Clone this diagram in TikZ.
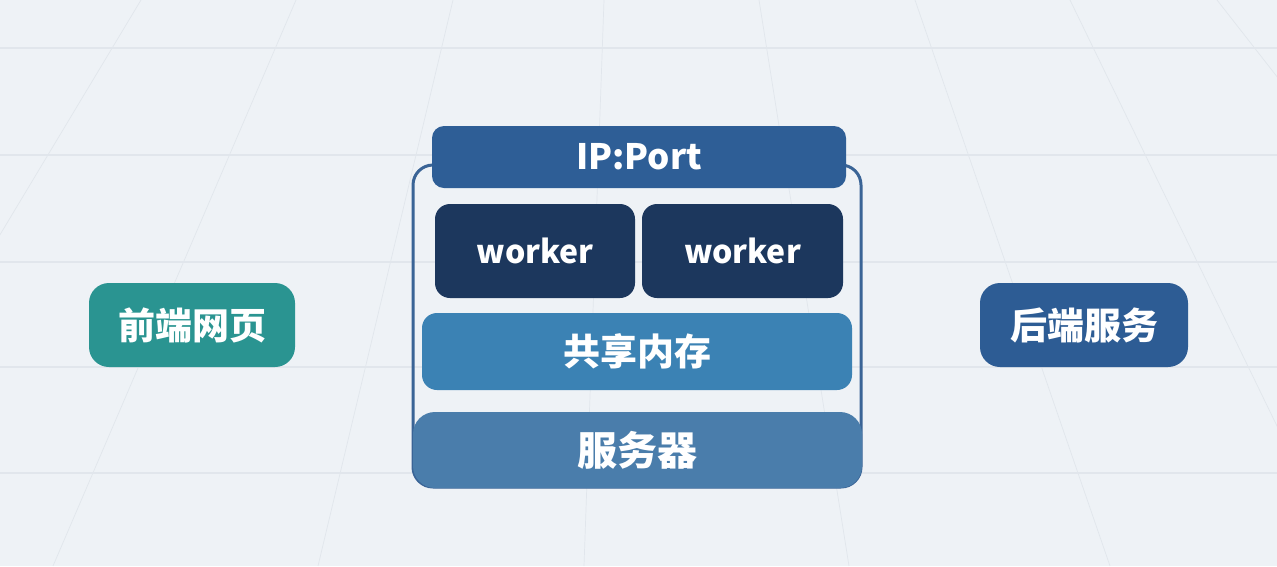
\documentclass[tikz,border=0pt]{standalone}
\usepackage{fontspec}
\newfontfamily\cjk{Noto Sans CJK SC}
\definecolor{bgcol}{RGB}{238,242,246}
\definecolor{gridcol}{RGB}{225,230,236}
\definecolor{ipcol}{RGB}{46,94,150}
\definecolor{workercol}{RGB}{28,55,93}
\definecolor{shmcol}{RGB}{59,130,180}
\definecolor{servercol}{RGB}{74,125,171}
\definecolor{framecol}{RGB}{58,100,150}
\definecolor{frontcol}{RGB}{42,148,145}
\definecolor{backcol}{RGB}{45,92,148}

\begin{document}
\begin{tikzpicture}[x=1pt,y=-1pt]
	\tikzset{box/.style={rounded corners=15pt,text=white,inner sep=0pt,font=\cjk\bfseries\fontsize{37}{40}\selectfont}}
	\useasboundingbox (0,0) rectangle (1277,566);
	% floor
	\fill[bgcol] (0,0) rectangle (1277,566);
	\begin{scope}
		\clip (0,0) rectangle (1277,566);
		\foreach \y in {48,155,262,367,473}
			\draw[gridcol,line width=1.2pt] (0,\y) -- (1277,\y);
		\foreach \a/\b in {141/-199,296/53,453/318,604/584,759/849,915/1110,1070/1345,1217/1660}
			\draw[gridcol,line width=0.7pt] (\a,0) -- (\b,566);
	\end{scope}
	% server frame
	\draw[framecol,line width=3pt,rounded corners=20pt] (413,165) rectangle (861,487);
	\node[box,fill=ipcol,rounded corners=12pt,minimum width=414pt,minimum height=62pt,font=\cjk\bfseries\fontsize{35}{40}\selectfont] (ipport) at (639,157) {IP:Port};
	\node[box,fill=workercol,minimum width=200pt,minimum height=94pt,font=\cjk\bfseries\fontsize{32}{40}\selectfont] (worker1) at (535,251) {worker};
	\node[box,fill=workercol,minimum width=201pt,minimum height=94pt,font=\cjk\bfseries\fontsize{32}{40}\selectfont] (worker2) at (742.5,251) {worker};
	\node[box,fill=shmcol,minimum width=430pt,minimum height=77pt,font=\cjk\bfseries\fontsize{37}{40}\selectfont] (shm) at (637,351.5) {共享内存};
	\node[box,fill=servercol,rounded corners=22pt,minimum width=449pt,minimum height=76pt,font=\cjk\bfseries\fontsize{40}{44}\selectfont] (server) at (637.5,450) {服务器};
	% clients
	\node[box,fill=frontcol,rounded corners=20pt,minimum width=206pt,minimum height=84pt] (front) at (192,325) {前端网页};
	\node[box,fill=backcol,rounded corners=20pt,minimum width=208pt,minimum height=84pt] (back) at (1084,325) {后端服务};
\end{tikzpicture}
\end{document}
